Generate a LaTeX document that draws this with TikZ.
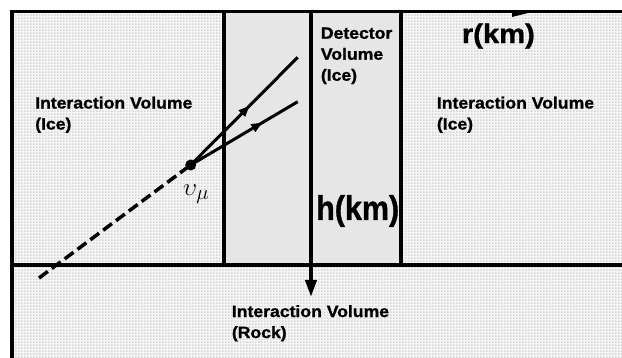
\documentclass[tikz,border=0pt]{standalone}
\usepackage{fontspec}
\setmainfont{Liberation Sans}[FakeStretch=1.08, BoldFeatures={FakeBold=1.2}]
\usetikzlibrary{patterns.meta,arrows.meta,decorations.markings}
\definecolor{detgray}{HTML}{E6E6E6}
\definecolor{dotgray}{HTML}{A8A8A8}
\tikzdeclarepattern{
  name=finedots,
  type=uncolored,
  bounding box={(0pt,0pt) and (3pt,3pt)},
  tile size={(3pt,3pt)},
  code={\pgfpathrectangle{\pgfqpoint{0.6pt}{0.6pt}}{\pgfqpoint{1.1pt}{1.1pt}}\pgfusepath{fill}}
}
\tikzset{
  border/.style={line width=3.6pt},
  axisline/.style={line width=3.8pt},
  track/.style={line width=3pt},
  lbl/.style={inner sep=0pt, anchor=north west, align=left, font=\fontsize{16.3}{21}\selectfont\bfseries},
  biglbl/.style={inner sep=0pt, anchor=north west, font=\fontsize{27}{30}\selectfont\bfseries},
  midarrow/.style={postaction={decorate}, decoration={markings, mark=at position #1 with {\arrow{Triangle[length=11pt,width=8.5pt]}}}},
  vertex/.style={circle, fill=black, inner sep=0pt, minimum size=11pt}
}
\begin{document}
\begin{tikzpicture}[x=1pt,y=-1pt]
\useasboundingbox (0,0) rectangle (622,358);
% regions
\fill[white!96!black] (11.7,11.7) rectangle (622,358);
\fill[pattern=finedots, pattern color=dotgray] (11.7,11.7) rectangle (622,358);
\fill[detgray] (224,11.7) rectangle (401,265);
% coordinates
\coordinate (tl) at (11.7,11.7);
\coordinate (tr) at (622,11.7);
\coordinate (bl) at (11.7,358);
\coordinate (hl) at (11.7,265);
\coordinate (hr) at (622,265);
\coordinate (d1t) at (224,11.7);
\coordinate (d1b) at (224,265);
\coordinate (d2t) at (401,11.7);
\coordinate (d2b) at (401,265);
\coordinate (ht) at (311,11.7);
\coordinate (hb) at (311,297);
\coordinate (rt) at (530,12.5);
% borders
\draw[border] (bl) -- (tl) -- (tr);
\draw[axisline] (hl) -- (hr);
\draw[line width=3.5pt] (d1t) -- (d1b);
\draw[axisline] (d2t) -- (d2b);
% h axis
\draw[axisline, -{Triangle[length=17pt,width=11pt]}] (ht) -- (hb);
% r axis arrowhead
\fill (rt) -- ++(-18,-2.5) -- ++(0,7) -- cycle;
% neutrino and tracks
\node[vertex] (v) at (190.7,165) {};
\coordinate (d0) at (39,278);
\coordinate (t1) at (297.7,57.3);
\coordinate (t2) at (297.7,101.7);
\draw[line width=3.5pt, dash pattern=on 11pt off 5pt] (d0) -- (v.center);
\draw[track, midarrow=0.55] (v.center) -- (t1);
\draw[track, midarrow=0.67] (v.center) -- (t2);
% labels
\node[lbl] (li) at (35,96.5) {Interaction Volume\\(Ice)};
\node[lbl] (ri) at (436.7,96.5) {Interaction Volume\\(Ice)};
\node[lbl] (det) at (320.7,27.3) {Detector\\Volume\\(Ice)};
\node[lbl] (rock) at (231.7,305) {Interaction Volume\\(Rock)};
\node[biglbl] (rkm) at (461.7,23.3) {r(km)};
\node[inner sep=0pt, anchor=north west, font=\fontsize{34}{36}\selectfont\bfseries] (hkm) at (316,195) {\scalebox{0.83}[1]{h(km)}};
\node[inner sep=0pt, anchor=north west, font=\fontsize{30}{32}\selectfont] (nu) at (183,185) {$\upsilon_\mu$};
\end{tikzpicture}
\end{document}
